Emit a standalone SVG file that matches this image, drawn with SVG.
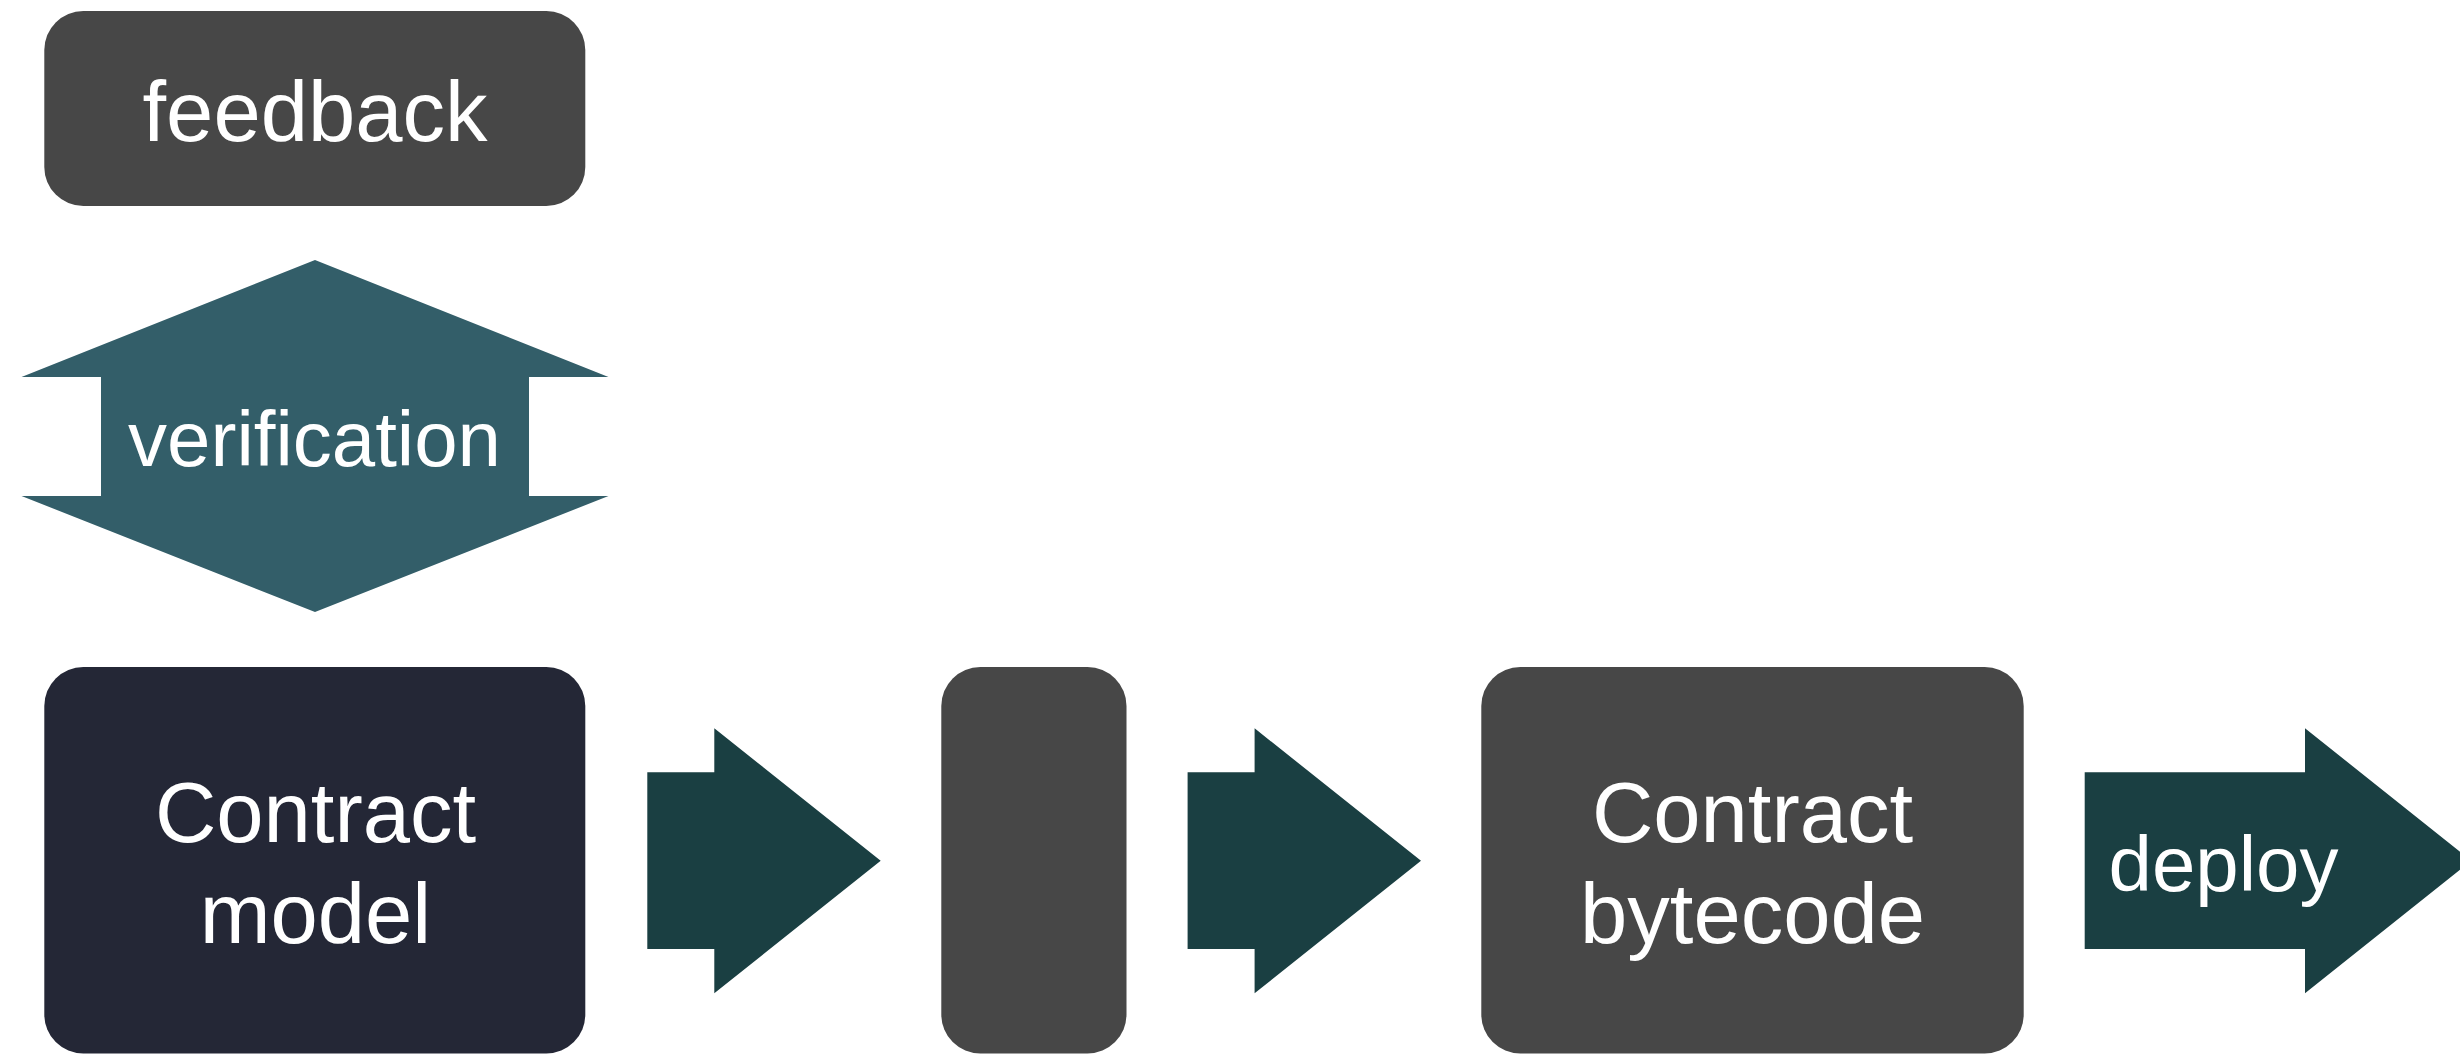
<svg xmlns="http://www.w3.org/2000/svg" width="2460" height="1054" viewBox="0 0 2460 1054">
  <style>
    .box-gray { fill: #474747; }
    .box-navy { fill: #242736; }
    .arrow { fill: #1A3F42; }
    .arrow-v { fill: #335E69; }
    .lbl { font-family: "Liberation Sans", Arial, Helvetica, sans-serif; fill: #FFFFFF; text-anchor: middle; }
    .big { font-size: 85px; }
    .mid { font-size: 78px; }
  </style>
  <rect width="2460" height="1054" fill="#FFFFFF"/>

  <g id="connectors">
    <g id="arrow-verification">
      <polygon class="arrow-v" points="315,260 608.5,377 529,377 529,496 608.5,496 315,612 21.5,496 101,496 101,377 21.5,377"/>
      <text class="lbl mid" x="314.5" y="466">verification</text>
    </g>
    <g id="arrow-model-to-mid">
      <polygon class="arrow" points="647.3,772.3 714.3,772.3 714.3,728.3 880.7,860.7 714.3,993.3 714.3,949 647.3,949"/>
    </g>
    <g id="arrow-mid-to-bytecode">
      <polygon class="arrow" points="1187.6,772.3 1254.6,772.3 1254.6,728.3 1421,860.7 1254.6,993.3 1254.6,949 1187.6,949"/>
    </g>
    <g id="arrow-deploy">
      <polygon class="arrow" points="2084.7,772.3 2305,772.3 2305,728.3 2471.4,860.7 2305,993.3 2305,949 2084.7,949"/>
      <text class="lbl mid" x="2223.5" y="890.7">deploy</text>
    </g>
  </g>

  <g id="node-feedback">
    <rect class="box-gray" x="44.3" y="11" width="541" height="195" rx="39" ry="39"/>
    <text class="lbl big" x="315" y="140.7">feedback</text>
  </g>

  <g id="node-contract-model">
    <rect class="box-navy" x="44.3" y="667" width="541" height="386.5" rx="39" ry="39"/>
    <text class="lbl big" x="315.5" y="841.7">Contract</text>
    <text class="lbl big" x="315.5" y="943.3">model</text>
  </g>

  <g id="node-middle">
    <rect class="box-gray" x="941.3" y="667" width="185.2" height="386.5" rx="39" ry="39"/>
  </g>

  <g id="node-contract-bytecode">
    <rect class="box-gray" x="1481.3" y="667" width="542.4" height="386.5" rx="39" ry="39"/>
    <text class="lbl big" x="1752.5" y="841.7">Contract</text>
    <text class="lbl big" x="1752.5" y="942.7">bytecode</text>
  </g>
</svg>
